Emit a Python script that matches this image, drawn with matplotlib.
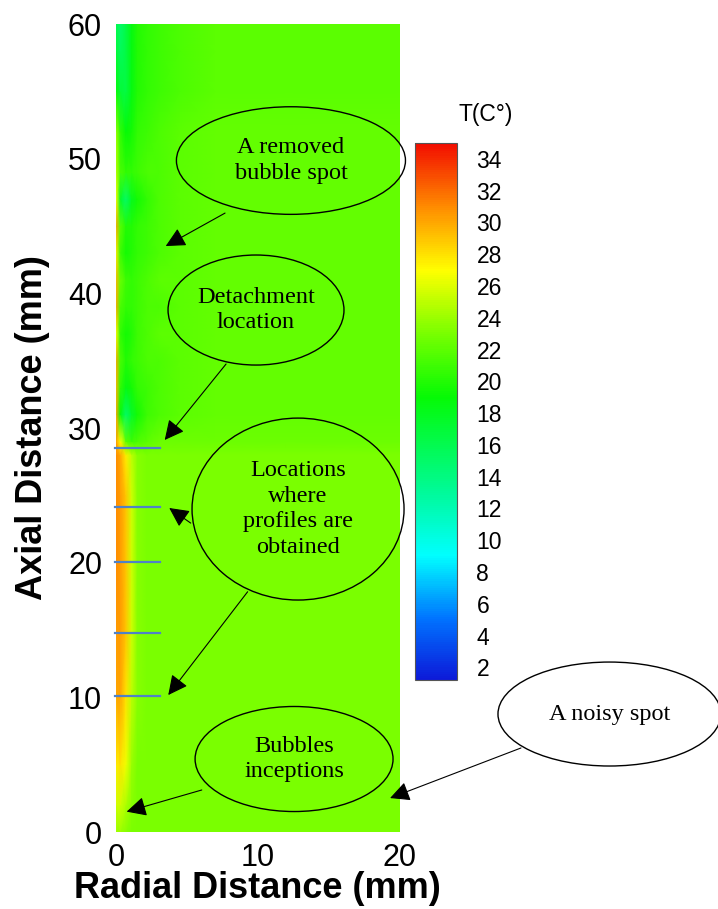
import numpy as np
import matplotlib.pyplot as plt
from matplotlib.colors import LinearSegmentedColormap
from matplotlib.patches import Ellipse

plt.rcParams['font.family'] = ['Liberation Sans', 'DejaVu Sans']

# radial / axial grid nodes (mm) and temperature (C)
radial = [0, 0.3, 0.7, 1.1, 1.5, 2.2, 3.0, 4.5, 7, 12, 20]
axial = [0, 2, 5, 10, 15, 20, 25, 28, 29, 31, 33, 35, 37, 39, 41, 43, 45, 47, 49, 52, 55, 58, 60]
temp = [
    [24.0, 24.0, 23.5, 23.0, 23.0, 23.0, 23.0, 23.0, 23.0, 23.0, 23.0],
    [25.5, 25.5, 24.5, 23.5, 23.0, 23.0, 23.0, 23.0, 23.0, 23.0, 23.0],
    [27.5, 28.0, 26.5, 24.0, 23.0, 23.0, 23.0, 23.0, 23.0, 23.0, 23.0],
    [30.0, 30.0, 28.0, 25.0, 23.5, 23.0, 23.0, 23.0, 23.0, 23.0, 23.0],
    [30.5, 30.5, 29.0, 25.5, 23.5, 23.0, 23.0, 23.0, 23.0, 23.0, 23.0],
    [31.0, 30.5, 29.0, 25.5, 23.5, 23.0, 23.0, 23.0, 23.0, 23.0, 23.0],
    [31.0, 30.5, 29.0, 25.5, 23.5, 23.0, 23.0, 23.0, 23.0, 23.0, 23.0],
    [31.0, 30.0, 27.5, 25.0, 23.5, 23.0, 23.0, 23.0, 23.0, 23.0, 23.0],
    [30.5, 27.0, 22.0, 21.0, 21.5, 22.0, 22.5, 22.5, 22.5, 22.5, 22.5],
    [30.0, 19.0, 15.0, 17.5, 19.5, 21.0, 21.5, 22.0, 22.3, 22.3, 22.3],
    [29.5, 20.5, 18.5, 19.5, 20.5, 21.0, 21.5, 22.0, 22.3, 22.3, 22.3],
    [30.0, 21.5, 20.0, 20.5, 21.0, 21.5, 21.5, 22.0, 22.3, 22.3, 22.3],
    [27.0, 20.5, 19.5, 20.0, 21.0, 21.5, 22.0, 22.0, 22.3, 22.3, 22.3],
    [30.0, 21.5, 20.5, 20.5, 21.0, 21.5, 21.5, 22.0, 22.3, 22.3, 22.3],
    [29.5, 22.5, 21.0, 20.5, 21.0, 21.5, 22.0, 22.0, 22.3, 22.3, 22.3],
    [27.5, 21.0, 19.5, 20.0, 20.5, 21.0, 21.5, 22.0, 22.3, 22.3, 22.3],
    [30.0, 22.0, 20.0, 20.0, 20.5, 21.0, 21.5, 22.0, 22.3, 22.3, 22.3],
    [27.0, 17.5, 15.0, 18.0, 19.5, 20.5, 21.5, 22.0, 22.3, 22.3, 22.3],
    [25.0, 21.5, 20.5, 20.5, 21.0, 21.5, 21.5, 22.0, 22.3, 22.3, 22.3],
    [24.0, 20.5, 19.0, 19.5, 20.5, 21.0, 21.5, 22.0, 22.3, 22.3, 22.3],
    [19.0, 17.0, 16.5, 18.5, 20.0, 20.5, 21.0, 21.5, 22.0, 22.0, 22.0],
    [17.0, 15.5, 16.5, 18.5, 20.0, 20.5, 21.0, 21.5, 22.0, 22.0, 22.0],
    [16.0, 15.0, 16.5, 18.5, 20.0, 20.5, 21.0, 21.5, 22.0, 22.0, 22.0],
]
profile_z = [28.5, 24.1, 20.05, 14.8, 10.1]
cbar_ticks = list(range(2, 36, 2))
t_min, t_max = 1.2, 35.0

# colour scale of the original (blue - cyan - green - yellow - red)
cmap_t = [1.2, 5, 9, 13, 19, 23, 27, 31, 35]
cmap_rgb = [(0.05, 0.1, 0.85), (0.0, 0.45, 1.0), (0.0, 1.0, 1.0), (0.0, 0.98, 0.6),
            (0.02, 0.98, 0.02), (0.47, 1.0, 0.0), (1.0, 1.0, 0.0), (1.0, 0.55, 0.0),
            (0.95, 0.05, 0.0)]
nodes = [(t - t_min) / (t_max - t_min) for t in cmap_t]
cmap = LinearSegmentedColormap.from_list('temp', list(zip(nodes, cmap_rgb)))

W, H = 718, 909
fig = plt.figure(figsize=(W / 100, H / 100), dpi=100)
ax = fig.add_axes([116 / W, 1 - 832 / H, 284 / W, 808 / H])

R, Z = np.meshgrid(radial, axial)
mesh = ax.pcolormesh(R, Z, np.array(temp), shading='gouraud', cmap=cmap,
                     vmin=t_min, vmax=t_max)
ax.set_xlim(0, 20)
ax.set_ylim(0, 60)
ax.set_xticks([0, 10, 20])
ax.set_yticks(range(0, 61, 10))
for s in ax.spines.values():
    s.set_visible(False)
ax.tick_params(length=0, labelsize=22)
ax.tick_params(axis='y', pad=10)
ax.tick_params(axis='x', pad=8)

fig.text(257 / W, 1 - 889 / H, 'Radial Distance (mm)', ha='center', va='center',
         fontsize=26, fontweight='bold')
fig.text(33 / W, 1 - 428 / H, 'Axial Distance (mm)', ha='center', va='center',
         rotation=90, fontsize=26, fontweight='bold')

# profile locations
for z in profile_z:
    ax.plot([-0.1, 3.1], [z, z], color='#4f81c7', lw=1.6, clip_on=False)

# callouts: ellipse centre, width, height, text, arrow start, arrow tip
callouts = [
    ((12.32, 49.86), 16.13, 7.99, 'A removed\nbubble spot', (7.68, 45.96), (3.50, 43.51), 'none'),
    ((9.86, 38.76), 12.39, 8.17, 'Detachment\nlocation', (7.75, 34.75), (3.43, 29.11), 'none'),
    ((12.82, 23.98), 14.93, 13.51, 'Locations\nwhere\nprofiles are\nobtained', (9.27, 17.84), (3.68, 10.17), 'none'),
    ((12.54, 5.42), 13.94, 7.80, 'Bubbles\ninceptions', (6.04, 3.12), (0.75, 1.51), 'none'),
    ((34.75, 8.76), 15.7, 7.72, 'A noisy spot', (28.52, 6.24), (19.30, 2.52), 'white'),
]
arrow = dict(arrowstyle='-|>,head_length=0.6,head_width=0.3', mutation_scale=20,
             shrinkA=0, shrinkB=0, lw=0.8, color='black')
for c, w, h, txt, start, tip, fc in callouts:
    ax.add_patch(Ellipse(c, w, h, facecolor=fc, edgecolor='black', lw=1.0,
                         clip_on=False, zorder=3))
    ax.text(c[0], c[1], txt, ha='center', va='center', fontsize=17.5,
            family='Liberation Serif', linespacing=1.3, zorder=4, clip_on=False)
    ax.annotate('', xy=tip, xytext=start, arrowprops=arrow, annotation_clip=False, zorder=4)
# extra short arrow from the profiles callout
ax.annotate('', xy=(3.75, 24.06), xytext=(5.26, 22.94), arrowprops=arrow,
            annotation_clip=False, zorder=4)

# colour bar
cax = fig.add_axes([415 / W, 1 - 680 / H, 42 / W, 537 / H])
cb = fig.colorbar(mesh, cax=cax, ticks=cbar_ticks)
cb.outline.set_linewidth(0.8)
cb.outline.set_edgecolor('#555555')
cax.tick_params(length=0, pad=14, labelsize=16.5)
fig.text(486 / W, 1 - 114 / H, 'T(C°)', ha='center', va='center', fontsize=16.5)

fig.savefig('out.png', dpi=100)
